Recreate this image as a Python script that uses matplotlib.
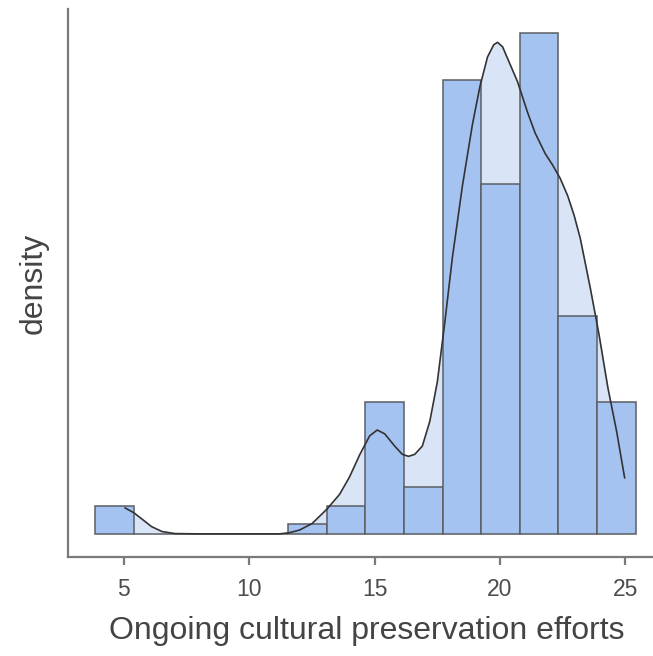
import numpy as np
import matplotlib
matplotlib.use("Agg")
import matplotlib.pyplot as plt

# histogram: 14 bins of width 1.54 starting at 3.85
bin_start = 3.85
bin_width = 1.54
counts = [3, 0, 0, 0, 0, 1, 3, 14, 5, 48, 37, 53, 23, 14]

# smoothed density curve (x, density)
curve_x = [5.04, 5.40, 5.76, 6.10, 6.52, 7.04, 8.00, 10.00, 11.20, 11.60,
           12.00, 12.50, 13.10, 13.60, 14.00, 14.40, 14.80, 15.10, 15.40, 15.80,
           16.10, 16.35, 16.60, 16.90, 17.20, 17.50, 17.80, 18.10, 18.50, 18.90,
           19.20, 19.50, 19.75, 19.90, 20.10, 20.35, 20.70, 21.10, 21.40, 21.80,
           22.10, 22.40, 22.70, 22.95, 23.20, 23.60, 23.95, 24.30, 24.65, 24.97]
curve_y = [0.0089, 0.0072, 0.0048, 0.0025, 0.0008, 0.0001, 0.0, 0.0, 0.0, 0.0004,
           0.0013, 0.0035, 0.0085, 0.0135, 0.0195, 0.0270, 0.0335, 0.0355, 0.0342, 0.0300,
           0.0272, 0.0265, 0.0272, 0.0300, 0.0385, 0.0520, 0.0725, 0.0945, 0.1190, 0.1400,
           0.1530, 0.1630, 0.1672, 0.1680, 0.1665, 0.1615, 0.1545, 0.1440, 0.1370, 0.1300,
           0.1260, 0.1215, 0.1155, 0.1090, 0.1010, 0.0840, 0.0680, 0.0500, 0.0350, 0.0191]

x_ticks = [5, 10, 15, 20, 25]

counts = np.array(counts)
edges = bin_start + bin_width * np.arange(len(counts) + 1)
dens = counts / (counts.sum() * bin_width)

plt.rcParams['font.family'] = ['Liberation Sans', 'DejaVu Sans']

fig = plt.figure(figsize=(6.53, 6.56), dpi=100)
ax = fig.add_axes([68 / 653, 99 / 656, 1 - 68 / 653, 548 / 656])

ax.fill_between(curve_x, curve_y, 0, color='#d9e4f7', lw=0, zorder=1)
ax.bar(edges[:-1], dens, width=bin_width, align='edge', color='#a5c3f0',
       edgecolor='#5b5e63', linewidth=1.1, zorder=2)
ax.plot(curve_x, curve_y, color='#333333', lw=1.2, zorder=3,
        solid_joinstyle='round', solid_capstyle='round')

ax.set_xlim(2.77, 26.10)
ax.set_ylim(-0.0079, 0.1794)
ax.set_xticks(x_ticks)
ax.set_yticks([])

for side in ['top', 'right']:
    ax.spines[side].set_visible(False)
for side in ['left', 'bottom']:
    ax.spines[side].set_color('#7a7a7a')
    ax.spines[side].set_linewidth(1.6)

ax.tick_params(axis='x', colors='#7a7a7a', length=6, width=1.6,
               labelsize=16.5, labelcolor='#4d4d4d', pad=9)

ax.set_xlabel('Ongoing cultural preservation efforts', fontsize=23,
              color='#444444', labelpad=11)
ax.xaxis.label.set_x(0.51)
ax.set_ylabel('density', fontsize=23, color='#444444', labelpad=14)

fig.savefig('out.png', dpi=100)
